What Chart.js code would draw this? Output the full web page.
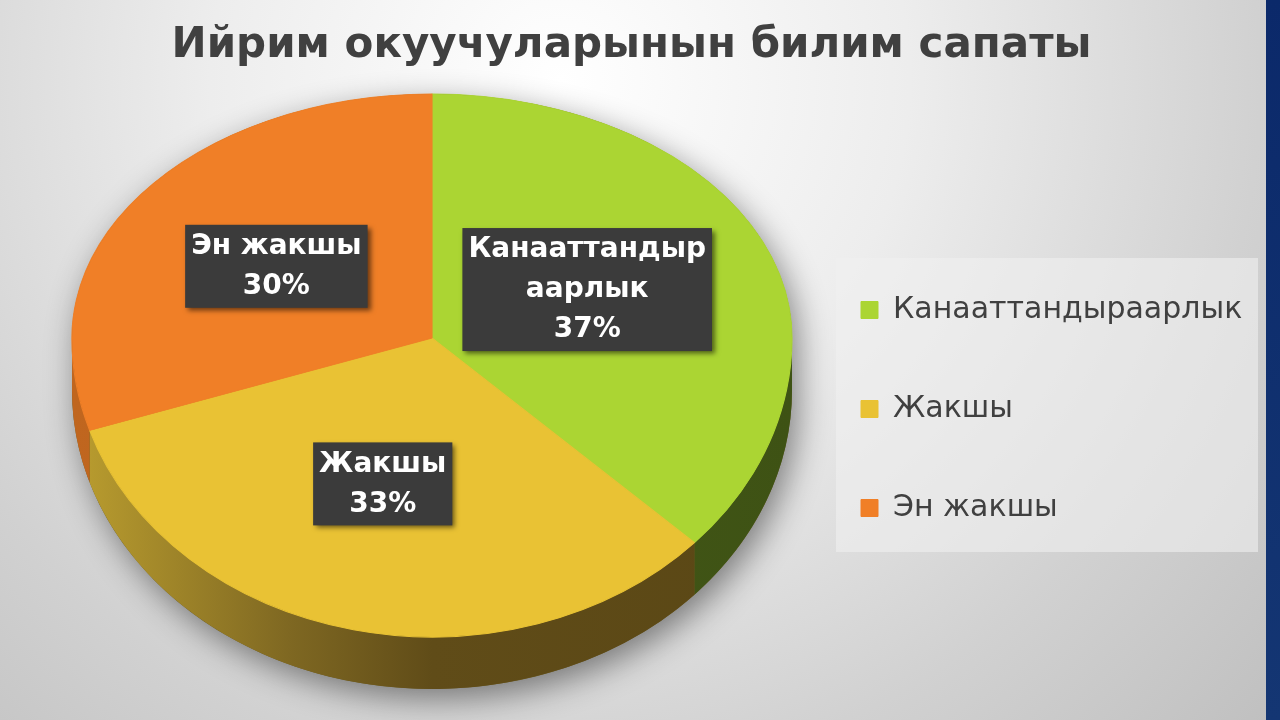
<!DOCTYPE html>
<html><head><meta charset="utf-8">
<script src="https://cdn.jsdelivr.net/npm/chart.js@4"></script>
<style>html,body{margin:0;padding:0;width:1280px;height:720px;overflow:hidden;background:#d6d6d6}
canvas{display:block}</style>
</head><body>
<canvas id="c" width="1280" height="720"></canvas>
<script>
// ---- data ----
const chartTitle = 'Ийрим окуучуларынын билим сапаты';
const categories = ['Канааттандыраарлык', 'Жакшы', 'Эн жакшы'];
const values = [37, 33, 30];
const topColors = ['#abd533', '#e9c234', '#f07f27'];

// ---- styling / layout ----
const FONT = 'DejaVu Sans';
const PIE = {cx: 432, cy: 338, rx: 360, ryTop: 244, ryBot: 299, depth: 52};
const LABEL_SHIFT_X = -10;
const LEGEND_POS = {x: 861, y: 295};
const LEGEND_PANEL = {x: 836, y: 258, w: 422, h: 294};
const sideStops = [
  [[0, '#4a5f1c'], [1, '#3e5214']],
  [[0, '#bb9e2f'], [0.3, '#7f6822'], [0.5, '#604c18'], [1, '#5a4715']],
  [[0, '#c0661f'], [1, '#a85516']]
];

const bgPlugin = {
  id: 'bg',
  beforeDraw(chart) {
    const ctx = chart.ctx, W = chart.width, H = chart.height;
    ctx.save();
    const g = ctx.createRadialGradient(560, 80, 0, 560, 80, 1000);
    g.addColorStop(0, '#ffffff');
    g.addColorStop(0.35, '#ededed');
    g.addColorStop(0.7, '#d1d1d1');
    g.addColorStop(1, '#bdbdbd');
    ctx.fillStyle = g;
    ctx.fillRect(0, 0, W, H);
    const b = ctx.createLinearGradient(0, 0, 0, H);
    b.addColorStop(0, '#0b296a');
    b.addColorStop(1, '#143673');
    ctx.fillStyle = b;
    ctx.fillRect(1266, 0, W - 1266, H);
    ctx.fillStyle = 'rgba(240,240,240,0.6)';
    ctx.fillRect(LEGEND_PANEL.x, LEGEND_PANEL.y, LEGEND_PANEL.w, LEGEND_PANEL.h);
    ctx.restore();
  }
};

const legendMove = {
  id: 'legendMove',
  afterLayout(chart) {
    const L = chart.legend;
    if (!L || !L.columnSizes || !L.columnSizes.length) return;
    const pad = L.options.labels.padding;
    const curX = L.left + pad;
    const curY = (L.top + pad + L.bottom - L.columnSizes[0].height) / 2;
    const dx = LEGEND_POS.x - curX, dy = LEGEND_POS.y - curY;
    L.left += dx; L.right += dx; L.top += dy; L.bottom += dy;
  }
};

function applyT(ctx, X, Y, R, ry) {
  ctx.translate(PIE.cx, PIE.cy);
  ctx.scale(PIE.rx / R, ry / R);
  ctx.translate(-X, -Y);
}

function frontSegments(s, e) {
  const segs = [];
  for (const k of [-2, 0, 2]) {
    const lo = Math.max(s, k * Math.PI), hi = Math.min(e, (k + 1) * Math.PI);
    if (hi > lo) segs.push([lo, hi]);
  }
  return segs;
}

function drawLabels(chart) {
  const ctx = chart.ctx;
  const arcs = chart.getDatasetMeta(0).data;
  const total = values.reduce((p, v) => p + v, 0);
  ctx.save();
  ctx.font = 'bold 28px "' + FONT + '"';
  const lineH = 40;
  arcs.forEach((a, i) => {
    const mid = (a.startAngle + a.endAngle) / 2;
    const f = 0.5;
    const sx = PIE.cx + PIE.rx * f * Math.cos(mid) + LABEL_SHIFT_X;
    const sy = PIE.cy + (Math.sin(mid) < 0 ? PIE.ryTop : PIE.ryBot) * f * Math.sin(mid);
    const lines = [];
    let cur = '';
    for (const ch of categories[i]) {
      if (cur && ctx.measureText(cur + ch).width > 245) { lines.push(cur); cur = ch; }
      else cur += ch;
    }
    lines.push(cur);
    lines.push(Math.round(values[i] / total * 100) + '%');
    const w = Math.max(...lines.map(l => ctx.measureText(l).width)) + 12;
    const h = lines.length * lineH + 3;
    const bx = sx - w / 2, by = sy - h / 2;
    ctx.save();
    ctx.shadowColor = 'rgba(0,0,0,0.55)';
    ctx.shadowBlur = 5;
    ctx.shadowOffsetX = 3;
    ctx.shadowOffsetY = 3;
    ctx.fillStyle = '#3b3b3b';
    ctx.fillRect(bx, by, w, h);
    ctx.restore();
    ctx.fillStyle = '#ffffff';
    ctx.textAlign = 'center';
    ctx.textBaseline = 'middle';
    lines.forEach((l, k) => ctx.fillText(l, sx, by + 2 + lineH * (k + 0.5)));
  });
  ctx.restore();
}

const pie3d = {
  id: 'pie3d',
  beforeDatasetsDraw(chart) {
    const ctx = chart.ctx, W = chart.width, H = chart.height;
    const arcs = chart.getDatasetMeta(0).data;
    const X = arcs[0].x, Y = arcs[0].y, R = arcs[0].outerRadius;
    const D = PIE.depth / (PIE.ryBot / R);

    // shadow silhouette
    ctx.save();
    ctx.shadowColor = 'rgba(0,0,0,0.45)';
    ctx.shadowBlur = 32;
    ctx.shadowOffsetX = 6;
    ctx.shadowOffsetY = 10;
    ctx.beginPath();
    ctx.save(); applyT(ctx, X, Y, R, PIE.ryTop);
    ctx.arc(X, Y, R, Math.PI, 2 * Math.PI);
    ctx.restore();
    ctx.save(); applyT(ctx, X, Y, R, PIE.ryBot);
    ctx.arc(X, Y + D, R, 0, Math.PI);
    ctx.restore();
    ctx.closePath();
    ctx.fillStyle = '#6a5a20';
    ctx.fill();
    ctx.restore();

    // sides
    arcs.forEach((a, i) => {
      frontSegments(a.startAngle, a.endAngle).forEach(([s, e]) => {
        ctx.save();
        applyT(ctx, X, Y, R, PIE.ryBot);
        const g = ctx.createLinearGradient(X - R, 0, X + R, 0);
        sideStops[i].forEach(([t, c]) => g.addColorStop(t, c));
        ctx.beginPath();
        ctx.arc(X, Y, R, s, e);
        ctx.arc(X, Y + D, R, e, s, true);
        ctx.closePath();
        ctx.fillStyle = g;
        ctx.fill();
        ctx.restore();
      });
    });

    // top faces: upper half and lower half
    ctx.save();
    ctx.beginPath(); ctx.rect(0, 0, W, PIE.cy); ctx.clip();
    applyT(ctx, X, Y, R, PIE.ryTop);
    arcs.forEach(a => a.draw(ctx));
    ctx.restore();
    ctx.save();
    ctx.beginPath(); ctx.rect(0, PIE.cy, W, H - PIE.cy); ctx.clip();
    applyT(ctx, X, Y, R, PIE.ryBot);
    arcs.forEach(a => a.draw(ctx));
    ctx.restore();
    return false;
  },
  afterDraw(chart) {
    drawLabels(chart);
  }
};

new Chart(document.getElementById('c'), {
  type: 'pie',
  data: {
    labels: categories,
    datasets: [{data: values, backgroundColor: topColors, borderColor: topColors, borderWidth: 1}]
  },
  options: {
    responsive: false,
    animation: false,
    layout: {padding: {left: 0, right: 17, top: 0, bottom: 0}},
    plugins: {
      title: {
        display: true, text: chartTitle, color: '#404040',
        font: {family: FONT, size: 42, weight: 'bold'},
        padding: {top: 21, bottom: 10}
      },
      legend: {
        position: 'right',
        labels: {
          color: '#404040', font: {family: FONT, size: 30},
          boxWidth: 17, boxHeight: 17, padding: 69
        }
      },
      tooltip: {enabled: false}
    }
  },
  plugins: [bgPlugin, legendMove, pie3d]
});
</script>
</body></html>
